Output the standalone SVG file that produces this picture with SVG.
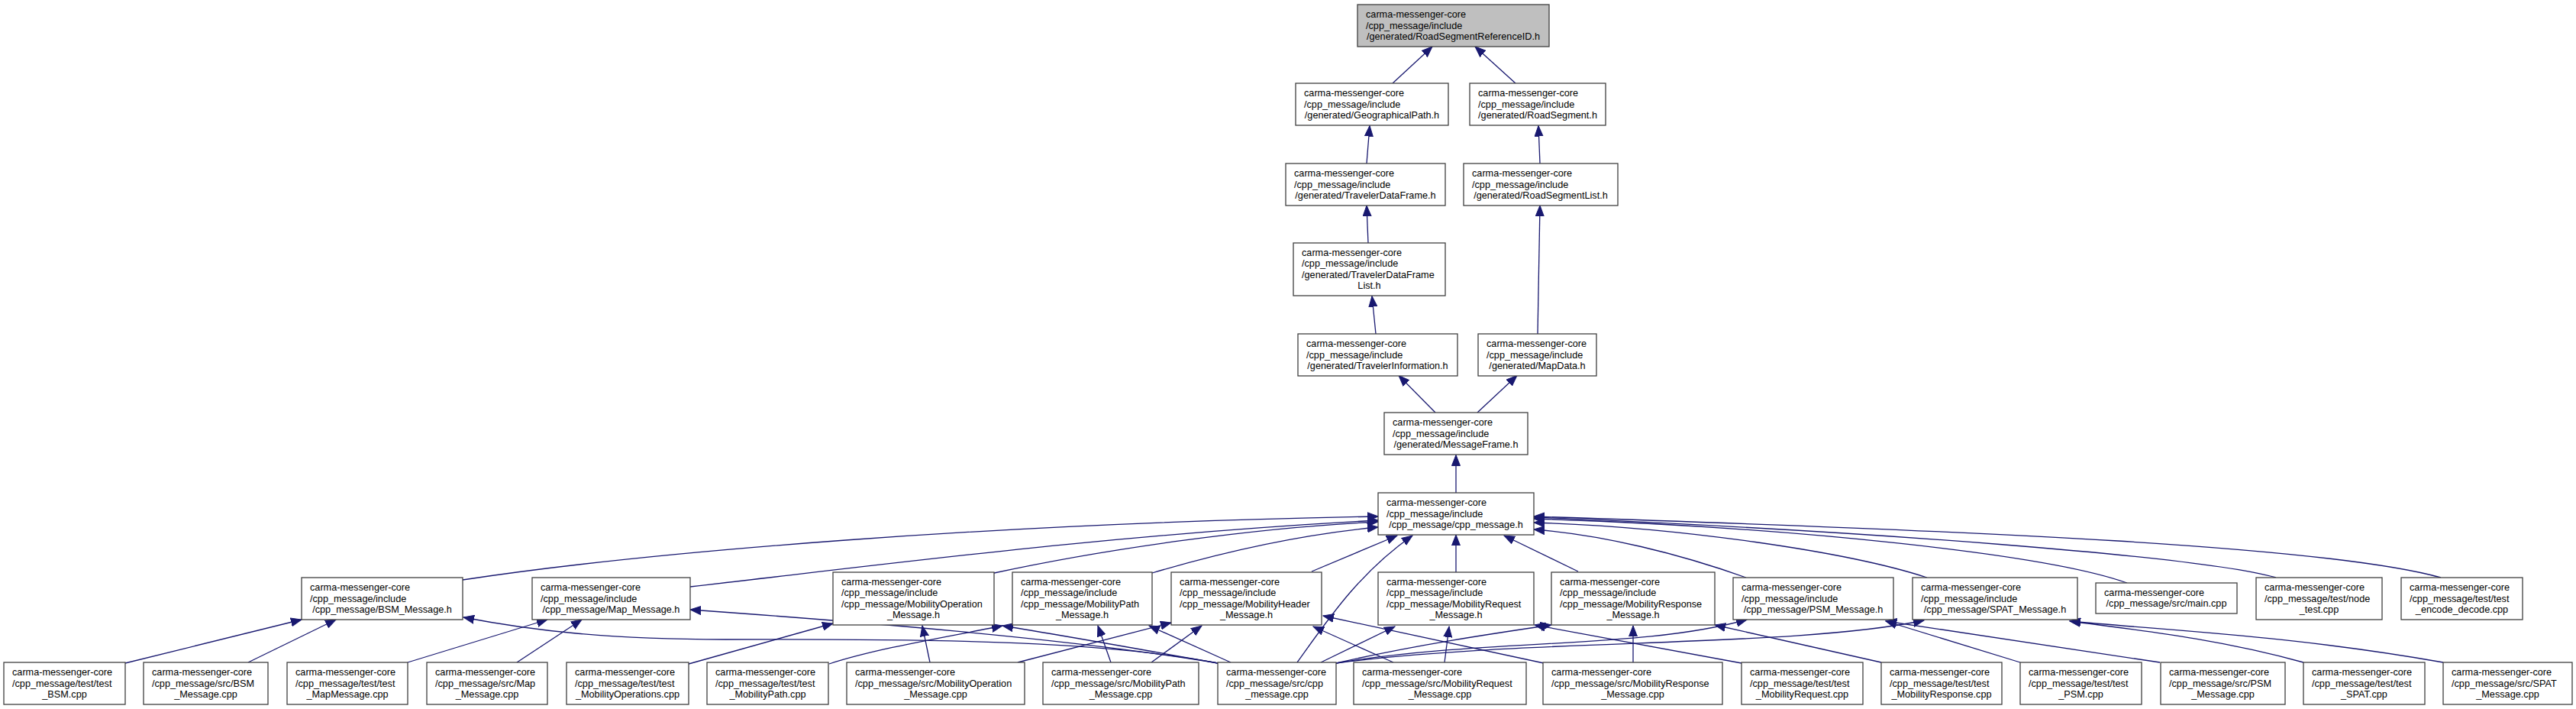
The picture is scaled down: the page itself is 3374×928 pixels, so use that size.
<svg xmlns="http://www.w3.org/2000/svg" width="3374" height="928" viewBox="0 0 3374 928">
<style>
rect{fill:#fff;stroke:#404040;stroke-width:1.3}
rect.root{fill:#bfbfbf}
text{font-family:"Liberation Sans",Arial,Helvetica,sans-serif;font-size:12.7px;fill:#000}
text.c{text-anchor:middle}
#edges path{fill:none;stroke:#191970;stroke-width:1.3;marker-end:url(#a)}
</style>
<defs>
<marker id="a" markerUnits="userSpaceOnUse" markerWidth="15" markerHeight="12" viewBox="0 0 15 12" refX="14" refY="6" orient="auto"><path d="M0,0.5 L14,6 L0,11.5 Z" fill="#191970" stroke="#191970" stroke-width="1"/></marker>
</defs>
<rect x="0" y="0" width="3374" height="928" style="fill:#fff;stroke:none"/>
<g id="edges">
<path d="M1824,109 L1876,61"/>
<path d="M1985,109 L1932,61"/>
<path d="M1790,214 L1794,164.5"/>
<path d="M2017,214 L2015,164.5"/>
<path d="M1792,318 L1790,269"/>
<path d="M1802,437 L1797,387.5"/>
<path d="M2014,437 L2017,269"/>
<path d="M1880,540 L1832,491.5"/>
<path d="M1935,540 L1987,491.5"/>
<path d="M1907,645 L1907,595.5"/>
<path d="M606,759 C850,722 1300,685 1805,676"/>
<path d="M904,768 C1150,740 1450,700 1805,681"/>
<path d="M1302,750 C1450,718 1650,690 1805,683"/>
<path d="M1509,750 C1600,723 1700,700 1805,690"/>
<path d="M1718,748 L1830,701"/>
<path d="M1699,867 C1740,810 1780,750 1850,701"/>
<path d="M1907,749 L1907,700"/>
<path d="M2067,748 L1970,701"/>
<path d="M2287,756 C2200,725 2100,700 2009,693"/>
<path d="M2524,756 C2420,722 2200,690 2009,684"/>
<path d="M2786,763 C2680,725 2350,690 2009,679"/>
<path d="M2981,756 C2880,728 2450,695 2009,677"/>
<path d="M3197,756 C3050,715 2600,695 2009,676"/>
<path d="M164,868 L395,811"/>
<path d="M325,867 L440,811"/>
<path d="M1595,868 C1450,840 1250,836 950,837 C800,837 700,826 607,808"/>
<path d="M534,867 L717,811"/>
<path d="M677,867 L762,811"/>
<path d="M1595,868 C1400,835 1100,812 904,798"/>
<path d="M902,869 L1091,816"/>
<path d="M1218,867 L1208,819"/>
<path d="M1086,869 C1150,848 1250,832 1313,819"/>
<path d="M1595,868 C1500,851 1400,833 1313,819"/>
<path d="M1333,867 L1534,815"/>
<path d="M1455,867 L1438,819"/>
<path d="M1508,867 L1574,819"/>
<path d="M1612,867 L1505,819"/>
<path d="M1825,867 L1720,820"/>
<path d="M2022,868 L1733,806"/>
<path d="M1730,867 L1827,820"/>
<path d="M1892,867 L1898,820"/>
<path d="M2281,868 L2010,818"/>
<path d="M1750,868 C1850,845 1950,830 2032,818"/>
<path d="M2139,867 L2139,819"/>
<path d="M2464,867 L2246,818"/>
<path d="M1750,868 C1950,835 2150,850 2288,811"/>
<path d="M1750,868 C2000,835 2350,848 2520,812"/>
<path d="M2646,867 L2470,813"/>
<path d="M2829,867 L2470,813"/>
<path d="M3017,867 C2900,835 2800,825 2711,813"/>
<path d="M3200,867 C3000,832 2850,826 2711,813"/>
</g>
<g id="n_rsrid"><rect class="root" x="1778" y="6" width="251" height="55"/><text x="1789" y="23">carma-messenger-core</text><text x="1789" y="37.5">/cpp_message/include</text><text class="c" x="1903.5" y="52">/generated/RoadSegmentReferenceID.h</text></g>
<g id="n_geo"><rect x="1697" y="109" width="200" height="55"/><text x="1708" y="126">carma-messenger-core</text><text x="1708" y="140.5">/cpp_message/include</text><text class="c" x="1797" y="155">/generated/GeographicalPath.h</text></g>
<g id="n_rs"><rect x="1925" y="109" width="178" height="55"/><text x="1936" y="126">carma-messenger-core</text><text x="1936" y="140.5">/cpp_message/include</text><text class="c" x="2014" y="155">/generated/RoadSegment.h</text></g>
<g id="n_tdf"><rect x="1684" y="214" width="209" height="55"/><text x="1695" y="231">carma-messenger-core</text><text x="1695" y="245.5">/cpp_message/include</text><text class="c" x="1788.5" y="260">/generated/TravelerDataFrame.h</text></g>
<g id="n_rsl"><rect x="1917" y="214" width="202" height="55"/><text x="1928" y="231">carma-messenger-core</text><text x="1928" y="245.5">/cpp_message/include</text><text class="c" x="2018" y="260">/generated/RoadSegmentList.h</text></g>
<g id="n_tdfl"><rect x="1694" y="318" width="199" height="69"/><text x="1705" y="334.75">carma-messenger-core</text><text x="1705" y="349.25">/cpp_message/include</text><text x="1705" y="363.75">/generated/TravelerDataFrame</text><text class="c" x="1793.5" y="378.25">List.h</text></g>
<g id="n_ti"><rect x="1700" y="437" width="209" height="55"/><text x="1711" y="454">carma-messenger-core</text><text x="1711" y="468.5">/cpp_message/include</text><text class="c" x="1804.5" y="483">/generated/TravelerInformation.h</text></g>
<g id="n_md"><rect x="1936" y="437" width="155" height="55"/><text x="1947" y="454">carma-messenger-core</text><text x="1947" y="468.5">/cpp_message/include</text><text class="c" x="2013.5" y="483">/generated/MapData.h</text></g>
<g id="n_mf"><rect x="1813" y="540" width="188" height="55"/><text x="1824" y="557">carma-messenger-core</text><text x="1824" y="571.5">/cpp_message/include</text><text class="c" x="1907" y="586">/generated/MessageFrame.h</text></g>
<g id="n_cpph"><rect x="1805" y="645" width="204" height="55"/><text x="1816" y="662">carma-messenger-core</text><text x="1816" y="676.5">/cpp_message/include</text><text class="c" x="1907" y="691">/cpp_message/cpp_message.h</text></g>
<g id="n_bsmh"><rect x="395" y="756" width="211" height="55"/><text x="406" y="773">carma-messenger-core</text><text x="406" y="787.5">/cpp_message/include</text><text class="c" x="500.5" y="802">/cpp_message/BSM_Message.h</text></g>
<g id="n_maph"><rect x="697" y="756" width="207" height="55"/><text x="708" y="773">carma-messenger-core</text><text x="708" y="787.5">/cpp_message/include</text><text class="c" x="800.5" y="802">/cpp_message/Map_Message.h</text></g>
<g id="n_moph"><rect x="1091" y="749" width="211" height="69"/><text x="1102" y="765.75">carma-messenger-core</text><text x="1102" y="780.25">/cpp_message/include</text><text x="1102" y="794.75">/cpp_message/MobilityOperation</text><text class="c" x="1196.5" y="809.25">_Message.h</text></g>
<g id="n_mpathh"><rect x="1326" y="749" width="183" height="69"/><text x="1337" y="765.75">carma-messenger-core</text><text x="1337" y="780.25">/cpp_message/include</text><text x="1337" y="794.75">/cpp_message/MobilityPath</text><text class="c" x="1417.5" y="809.25">_Message.h</text></g>
<g id="n_mhdrh"><rect x="1534" y="749" width="197" height="69"/><text x="1545" y="765.75">carma-messenger-core</text><text x="1545" y="780.25">/cpp_message/include</text><text x="1545" y="794.75">/cpp_message/MobilityHeader</text><text class="c" x="1632.5" y="809.25">_Message.h</text></g>
<g id="n_mreqh"><rect x="1805" y="749" width="204" height="69"/><text x="1816" y="765.75">carma-messenger-core</text><text x="1816" y="780.25">/cpp_message/include</text><text x="1816" y="794.75">/cpp_message/MobilityRequest</text><text class="c" x="1907" y="809.25">_Message.h</text></g>
<g id="n_mresh"><rect x="2032" y="749" width="214" height="69"/><text x="2043" y="765.75">carma-messenger-core</text><text x="2043" y="780.25">/cpp_message/include</text><text x="2043" y="794.75">/cpp_message/MobilityResponse</text><text class="c" x="2139" y="809.25">_Message.h</text></g>
<g id="n_psmh"><rect x="2270" y="756" width="210" height="55"/><text x="2281" y="773">carma-messenger-core</text><text x="2281" y="787.5">/cpp_message/include</text><text class="c" x="2375" y="802">/cpp_message/PSM_Message.h</text></g>
<g id="n_spath"><rect x="2505" y="756" width="216" height="55"/><text x="2516" y="773">carma-messenger-core</text><text x="2516" y="787.5">/cpp_message/include</text><text class="c" x="2613" y="802">/cpp_message/SPAT_Message.h</text></g>
<g id="n_main"><rect x="2745" y="763" width="185" height="40"/><text x="2756" y="779.75">carma-messenger-core</text><text class="c" x="2837.5" y="794.25">/cpp_message/src/main.cpp</text></g>
<g id="n_node"><rect x="2955" y="756" width="165" height="55"/><text x="2966" y="773">carma-messenger-core</text><text x="2966" y="787.5">/cpp_message/test/node</text><text class="c" x="3037.5" y="802">_test.cpp</text></g>
<g id="n_encdec"><rect x="3145" y="756" width="159" height="55"/><text x="3156" y="773">carma-messenger-core</text><text x="3156" y="787.5">/cpp_message/test/test</text><text class="c" x="3224.5" y="802">_encode_decode.cpp</text></g>
<g id="n_tbsm"><rect x="5" y="867" width="159" height="55"/><text x="16" y="884">carma-messenger-core</text><text x="16" y="898.5">/cpp_message/test/test</text><text class="c" x="84.5" y="913">_BSM.cpp</text></g>
<g id="n_sbsm"><rect x="188" y="867" width="163" height="55"/><text x="199" y="884">carma-messenger-core</text><text x="199" y="898.5">/cpp_message/src/BSM</text><text class="c" x="269.5" y="913">_Message.cpp</text></g>
<g id="n_tmap"><rect x="376" y="867" width="158" height="55"/><text x="387" y="884">carma-messenger-core</text><text x="387" y="898.5">/cpp_message/test/test</text><text class="c" x="455" y="913">_MapMessage.cpp</text></g>
<g id="n_smap"><rect x="559" y="867" width="158" height="55"/><text x="570" y="884">carma-messenger-core</text><text x="570" y="898.5">/cpp_message/src/Map</text><text class="c" x="638" y="913">_Message.cpp</text></g>
<g id="n_tmop"><rect x="742" y="867" width="160" height="55"/><text x="753" y="884">carma-messenger-core</text><text x="753" y="898.5">/cpp_message/test/test</text><text class="c" x="822" y="913">_MobilityOperations.cpp</text></g>
<g id="n_tmpath"><rect x="926" y="867" width="159" height="55"/><text x="937" y="884">carma-messenger-core</text><text x="937" y="898.5">/cpp_message/test/test</text><text class="c" x="1005.5" y="913">_MobilityPath.cpp</text></g>
<g id="n_smop"><rect x="1109" y="867" width="233" height="55"/><text x="1120" y="884">carma-messenger-core</text><text x="1120" y="898.5">/cpp_message/src/MobilityOperation</text><text class="c" x="1225.5" y="913">_Message.cpp</text></g>
<g id="n_smpath"><rect x="1366" y="867" width="204" height="55"/><text x="1377" y="884">carma-messenger-core</text><text x="1377" y="898.5">/cpp_message/src/MobilityPath</text><text class="c" x="1468" y="913">_Message.cpp</text></g>
<g id="n_scpp"><rect x="1595" y="867" width="155" height="55"/><text x="1606" y="884">carma-messenger-core</text><text x="1606" y="898.5">/cpp_message/src/cpp</text><text class="c" x="1672.5" y="913">_message.cpp</text></g>
<g id="n_smreq"><rect x="1773" y="867" width="226" height="55"/><text x="1784" y="884">carma-messenger-core</text><text x="1784" y="898.5">/cpp_message/src/MobilityRequest</text><text class="c" x="1886" y="913">_Message.cpp</text></g>
<g id="n_smres"><rect x="2021" y="867" width="235" height="55"/><text x="2032" y="884">carma-messenger-core</text><text x="2032" y="898.5">/cpp_message/src/MobilityResponse</text><text class="c" x="2138.5" y="913">_Message.cpp</text></g>
<g id="n_tmreq"><rect x="2281" y="867" width="159" height="55"/><text x="2292" y="884">carma-messenger-core</text><text x="2292" y="898.5">/cpp_message/test/test</text><text class="c" x="2360.5" y="913">_MobilityRequest.cpp</text></g>
<g id="n_tmres"><rect x="2464" y="867" width="158" height="55"/><text x="2475" y="884">carma-messenger-core</text><text x="2475" y="898.5">/cpp_message/test/test</text><text class="c" x="2543" y="913">_MobilityResponse.cpp</text></g>
<g id="n_tpsm"><rect x="2646" y="867" width="159" height="55"/><text x="2657" y="884">carma-messenger-core</text><text x="2657" y="898.5">/cpp_message/test/test</text><text class="c" x="2725.5" y="913">_PSM.cpp</text></g>
<g id="n_spsm"><rect x="2830" y="867" width="163" height="55"/><text x="2841" y="884">carma-messenger-core</text><text x="2841" y="898.5">/cpp_message/src/PSM</text><text class="c" x="2911.5" y="913">_Message.cpp</text></g>
<g id="n_tspat"><rect x="3017" y="867" width="159" height="55"/><text x="3028" y="884">carma-messenger-core</text><text x="3028" y="898.5">/cpp_message/test/test</text><text class="c" x="3096.5" y="913">_SPAT.cpp</text></g>
<g id="n_sspat"><rect x="3200" y="867" width="169" height="55"/><text x="3211" y="884">carma-messenger-core</text><text x="3211" y="898.5">/cpp_message/src/SPAT</text><text class="c" x="3284.5" y="913">_Message.cpp</text></g>
</svg>
